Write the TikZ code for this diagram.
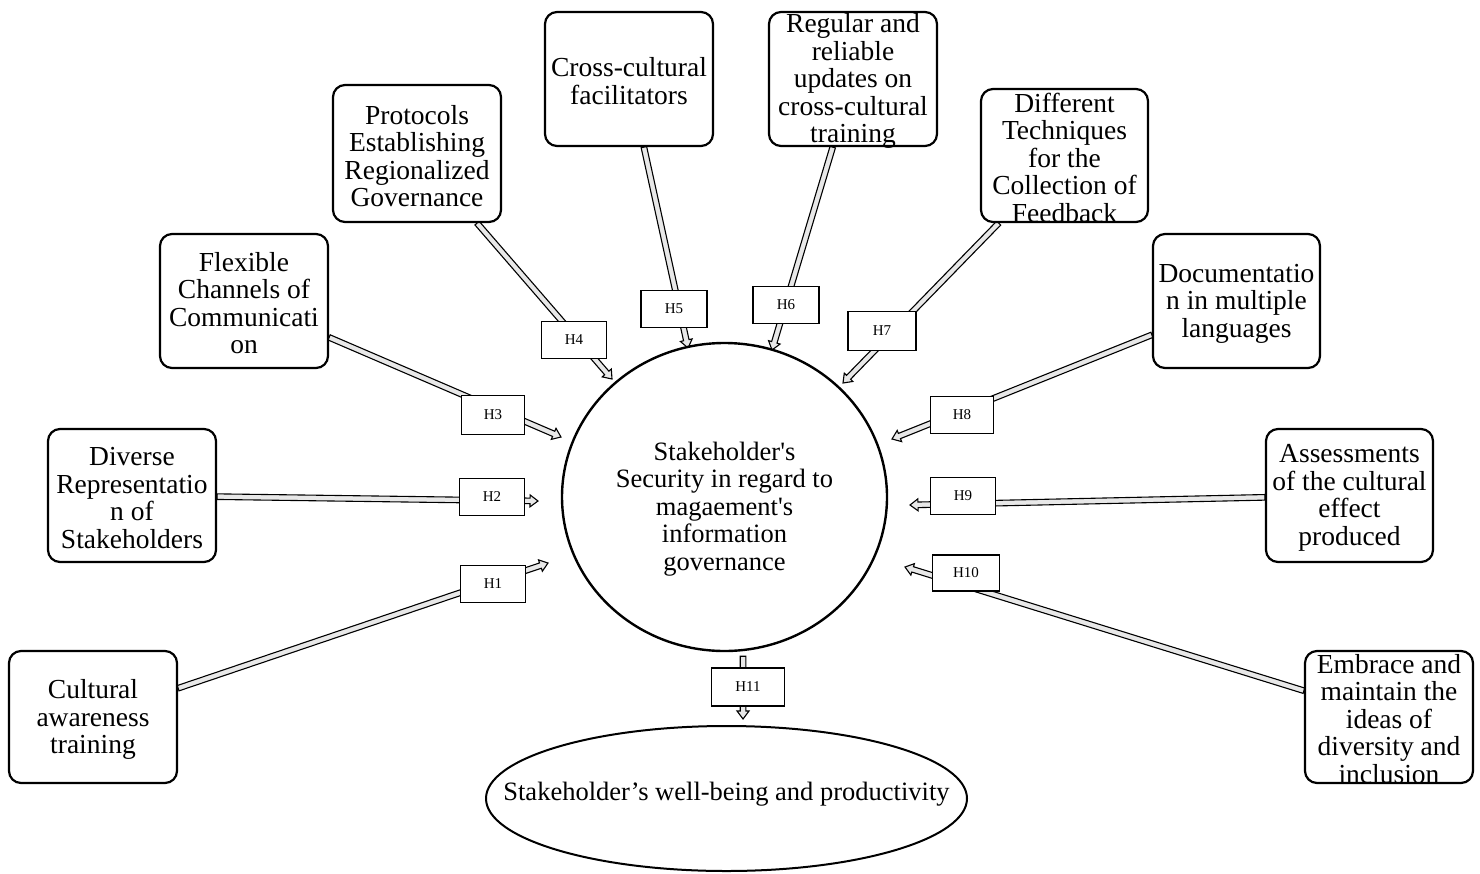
\documentclass[tikz,border=0pt]{standalone}
\usepackage{fontspec}
\setmainfont{Liberation Serif}
\usetikzlibrary{calc,backgrounds,shapes.geometric}
\tikzset{
  box/.style={draw, line width=2.2pt, rounded corners=12pt, fill=white,
    minimum width=168pt, minimum height=134pt, inner sep=0pt},
  boxtext/.style={align=center, font=\fontsize{27.5}{27.5}\selectfont, inner sep=0pt},
  midtext/.style={align=center, font=\fontsize{26.5}{27.5}\selectfont, inner sep=0pt},
  hbox/.style={draw, line width=1.8pt, fill=white, minimum width=65pt,
    minimum height=37pt, inner sep=0pt, font=\fontsize{15}{18}\selectfont},
  arr/.style={draw=black, fill=gray!18, line width=1.1pt, line join=miter},
}
\newcommand\blockarrow[2]{%
  \coordinate (ba-h) at ($(#2)!8pt!(#1)$);
  \path[arr] ($(#1)!2.8pt!90:(#2)$) -- ($(ba-h)!2.8pt!90:(#2)$) --
    ($(ba-h)!6pt!90:(#2)$) -- (#2) -- ($(ba-h)!6pt!-90:(#2)$) --
    ($(ba-h)!2.8pt!-90:(#2)$) -- ($(#1)!2.8pt!-90:(#2)$) -- cycle;}
\begin{document}
\begin{tikzpicture}[x=1pt,y=-1pt]
\useasboundingbox (0,0) rectangle (1480,873);
% central circle and bottom ellipse
\node[ellipse, draw, line width=2.4pt, fill=white, minimum width=325pt,
  minimum height=308pt, inner sep=0pt] (c) at (724.5,497) {};
\node[midtext] (ct) at (724.5,509) {Stakeholder\textquotesingle s\\Security in regard to\\magaement\textquotesingle s\\information\\governance};
\node[ellipse, draw, line width=2pt, fill=white, minimum width=481pt,
  minimum height=145pt, inner sep=0pt] (e) at (726.5,798.5) {};
\node[midtext] (et) at (726.5,794) {Stakeholder’s well-being and productivity};
% boxes
\node[box, minimum height=132pt] (b1) at (93,717) {};
\node[boxtext] at ($(b1.center)+(0,2.5)$) {Cultural\\awareness\\training};
\node[box, minimum height=133pt] (b2) at (132,495.5) {};
\node[boxtext] at ($(b2.center)+(0,2.5)$) {Diverse\\Representatio\\n of\\Stakeholders};
\node[box] (b3) at (244,301) {};
\node[boxtext] at ($(b3.center)+(0,2)$) {Flexible\\Channels of\\Communicati\\on};
\node[box, minimum height=137pt] (b4) at (417,153.5) {};
\node[boxtext] at ($(b4.center)+(0,2.5)$) {Protocols\\Establishing\\Regionalized\\Governance};
\node[box] (b5) at (629,79) {};
\node[boxtext] at ($(b5.center)+(0,2)$) {Cross-cultural\\facilitators};
\node[box] (b6) at (853,79) {};
\node[boxtext] at ($(b6.center)+(0,2)$) {Regular and\\reliable\\updates on\\cross-cultural\\training};
\node[box, minimum width=167pt, minimum height=133pt] (b7) at (1064.5,155.5) {};
\node[boxtext] at ($(b7.center)+(0,2)$) {Different\\Techniques\\for the\\Collection of\\Feedback};
\node[box, minimum width=167pt] (b8) at (1236.5,301) {};
\node[boxtext] at ($(b8.center)+(0,2.5)$) {Documentatio\\n in multiple\\languages};
\node[box, minimum width=167pt, minimum height=133pt] (b9) at (1349.5,495.5) {};
\node[boxtext] at ($(b9.center)+(0,2.5)$) {Assessments\\of the cultural\\effect\\produced};
\node[box, minimum height=132pt] (b10) at (1389,717) {};
\node[boxtext] at ($(b10.center)+(0,2)$) {Embrace and\\maintain the\\ideas of\\diversity and\\inclusion};
% arrow tips
\coordinate (t1) at (548,563);
\coordinate (t2) at (538,501);
\coordinate (t3) at (561,437);
\coordinate (t4) at (612,379);
\coordinate (t5) at (688,348);
\coordinate (t6) at (772,350);
\coordinate (t7) at (843,383);
\coordinate (t8) at (892,439);
\coordinate (t9) at (910,505);
\coordinate (t10) at (905,567);
\coordinate (t11) at (743,719);
\coordinate (s11) at ($(c.south)+(18.5,4)$);
\foreach \i in {1,...,10} {\path (b\i) -- (t\i) coordinate[pos=0] (s\i);}
\begin{pgfonlayer}{background}
\foreach \i in {1,...,11} {\blockarrow{s\i}{t\i}}
\end{pgfonlayer}
% hypothesis labels
\node[hbox] (h1) at (493,584) {H1};
\node[hbox] (h2) at (492,497) {H2};
\node[hbox, minimum width=63pt, minimum height=39pt] (h3) at (493,415) {H3};
\node[hbox] (h4) at (574,340) {H4};
\node[hbox, minimum width=66pt] (h5) at (674,309) {H5};
\node[hbox, minimum width=66pt] (h6) at (786,305) {H6};
\node[hbox, minimum width=68pt, minimum height=39pt] (h7) at (882,331) {H7};
\node[hbox, minimum width=63pt] (h8) at (962,415) {H8};
\node[hbox] (h9) at (963,496) {H9};
\node[hbox, minimum width=67pt, minimum height=36pt] (h10) at (966,573) {H10};
\node[hbox, minimum width=73pt, minimum height=38pt] (h11) at (748,687) {H11};
\end{tikzpicture}
\end{document}
